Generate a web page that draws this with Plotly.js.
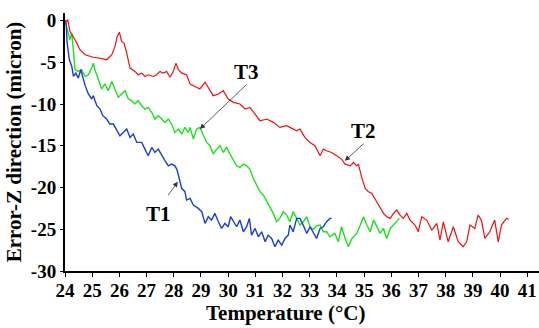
<!DOCTYPE html>
<html><head><meta charset="utf-8">
<script src="https://cdn.plot.ly/plotly-3.0.1.min.js"></script>
<style>html,body{margin:0;padding:0;background:#fff}#chart{width:539px;height:328px}</style>
</head><body><div id="chart"></div>
<script>
// T1 (blue)
const t1X = [24.00,24.04,24.08,24.16,24.25,24.31,24.40,24.49,24.58,24.67,24.74,24.86,24.98,25.04,25.17,25.29,25.39,25.53,25.65,25.78,25.90,26.02,26.14,26.27,26.39,26.51,26.64,26.82,26.94,27.06,27.19,27.31,27.43,27.56,27.68,27.80,27.92,28.04,28.11,28.17,28.29,28.41,28.47,28.60,28.72,28.90,29.03,29.15,29.27,29.39,29.51,29.64,29.76,29.88,30.00,30.09,30.19,30.31,30.43,30.56,30.68,30.78,30.86,30.99,31.11,31.23,31.36,31.47,31.60,31.72,31.84,31.97,32.09,32.21,32.27,32.39,32.52,32.64,32.76,32.89,33.01,33.13,33.25,33.38,33.50,33.62,33.74,33.80];
const t1Y = [0.0,-0.3,-2.7,-4.7,-5.5,-6.7,-6.3,-6.9,-5.9,-7.1,-7.8,-8.8,-9.4,-9.0,-10.2,-10.6,-11.4,-11.8,-12.4,-12.4,-13.2,-13.8,-13.4,-13.0,-14.0,-13.6,-14.6,-14.6,-15.4,-16.2,-15.2,-15.8,-15.4,-16.2,-16.8,-17.4,-17.2,-17.4,-17.8,-18.5,-20.1,-20.5,-21.5,-21.3,-22.1,-22.5,-22.9,-24.3,-23.5,-23.9,-23.1,-24.1,-24.9,-24.3,-24.7,-23.5,-24.1,-24.7,-23.9,-25.3,-24.7,-23.7,-25.7,-24.9,-25.9,-25.3,-26.5,-25.7,-26.1,-27.1,-26.3,-26.9,-26.1,-25.7,-24.5,-25.3,-23.7,-23.7,-24.5,-25.5,-24.7,-25.5,-26.1,-24.9,-24.7,-24.1,-23.7,-23.7];

// T3 (green)
const t3X = [24.00,24.08,24.18,24.25,24.31,24.37,24.49,24.61,24.74,24.86,24.98,25.04,25.10,25.22,25.35,25.47,25.59,25.72,25.84,25.96,26.08,26.21,26.33,26.45,26.57,26.69,26.82,26.94,27.06,27.19,27.31,27.43,27.56,27.68,27.80,27.92,28.04,28.17,28.29,28.41,28.53,28.60,28.72,28.84,28.96,29.08,29.21,29.33,29.45,29.58,29.70,29.82,29.94,30.07,30.19,30.31,30.43,30.56,30.68,30.80,30.92,31.05,31.17,31.29,31.42,31.54,31.66,31.78,31.90,32.03,32.15,32.27,32.39,32.52,32.64,32.76,32.89,33.01,33.13,33.25,33.38,33.50,33.62,33.74,33.92,34.05,34.17,34.30,34.42,34.55,34.73,34.86,34.98,35.10,35.22,35.35,35.47,35.59,35.71,35.83,35.96,36.08,36.20,36.30];
const t3Y = [0.0,-1.1,-2.3,-1.5,-3.9,-5.9,-6.1,-5.9,-6.7,-6.5,-5.7,-5.1,-5.9,-7.1,-8.2,-7.6,-8.4,-7.3,-8.2,-9.2,-8.8,-8.4,-9.4,-9.6,-10.0,-9.6,-10.2,-10.6,-10.4,-11.0,-11.8,-11.4,-11.8,-12.2,-11.8,-12.4,-13.4,-13.0,-13.6,-12.8,-13.4,-12.8,-14.2,-13.0,-12.8,-13.6,-14.6,-15.0,-16.0,-15.4,-15.0,-15.8,-15.2,-16.0,-16.8,-17.4,-17.6,-17.2,-17.4,-17.8,-18.9,-19.7,-20.5,-20.9,-21.7,-22.5,-23.1,-24.1,-23.7,-22.9,-23.3,-24.1,-22.9,-23.7,-24.5,-24.1,-23.5,-24.7,-25.0,-24.6,-24.5,-25.3,-25.3,-25.9,-25.5,-26.5,-24.7,-26.1,-27.1,-26.1,-25.5,-24.5,-23.5,-24.5,-25.3,-23.9,-24.7,-25.5,-24.9,-26.1,-24.9,-24.5,-24.1,-23.7];

// T2 (red)
const t2X = [24.00,24.06,24.10,24.18,24.37,24.55,24.74,25.04,25.41,25.53,25.72,25.84,25.92,26.00,26.08,26.17,26.27,26.39,26.57,26.69,26.82,26.94,27.06,27.25,27.37,27.49,27.61,27.74,27.86,27.98,28.08,28.17,28.29,28.47,28.60,28.72,28.96,29.15,29.27,29.45,29.64,29.82,30.00,30.19,30.43,30.62,30.80,30.99,31.17,31.42,31.66,31.90,32.15,32.27,32.52,32.64,32.82,33.01,33.19,33.38,33.50,33.62,33.80,33.99,34.17,34.30,34.49,34.61,34.73,34.79,34.92,35.04,35.16,35.28,35.40,35.53,35.71,35.83,35.96,36.08,36.20,36.32,36.44,36.57,36.69,36.87,36.99,37.12,37.30,37.49,37.67,37.79,37.91,38.09,38.28,38.46,38.64,38.77,38.89,39.07,39.19,39.31,39.44,39.62,39.80,39.93,40.05,40.23,40.32];
const t2Y = [0.0,-0.1,0.1,-1.3,-2.3,-3.5,-4.1,-4.4,-4.6,-4.7,-4.1,-3.1,-1.9,-1.4,-2.5,-2.7,-3.9,-5.7,-6.1,-6.5,-6.3,-6.7,-6.5,-6.7,-6.5,-6.1,-6.3,-6.1,-6.8,-6.1,-5.1,-5.9,-6.3,-6.5,-7.6,-7.8,-8.2,-7.4,-8.0,-9.0,-8.8,-8.4,-9.4,-9.8,-10.0,-10.6,-10.4,-11.2,-12.0,-11.8,-12.2,-12.8,-12.6,-12.8,-13.2,-13.0,-14.0,-14.6,-15.0,-16.2,-15.4,-15.6,-15.8,-16.2,-16.6,-17.2,-17.4,-17.0,-17.4,-17.2,-18.9,-20.1,-20.5,-20.7,-21.3,-22.1,-23.1,-23.5,-23.7,-23.1,-22.7,-23.3,-23.7,-23.1,-23.9,-24.5,-25.3,-23.5,-23.9,-25.1,-24.3,-26.3,-24.1,-26.5,-24.7,-26.5,-27.1,-26.5,-24.5,-24.9,-23.3,-23.9,-26.1,-25.3,-23.9,-26.5,-24.5,-23.7,-23.8];

const xTicks = [24,25,26,27,28,29,30,31,32,33,34,35,36,37,38,39,40,41];
const yTicks = [0,-5,-10,-15,-20,-25,-30];
const yTickText = ['0','-5','-10','-15','-20','-25','-30'];

const serif = 'Liberation Serif';
const traces = [
  {x: t3X, y: t3Y, mode: 'lines', name: 'T3', line: {color: '#1ee01e', width: 1.4}},
  {x: t1X, y: t1Y, mode: 'lines', name: 'T1', line: {color: '#1a3fd0', width: 1.4}},
  {x: t2X, y: t2Y, mode: 'lines', name: 'T2', line: {color: '#f01010', width: 1.2}}
];

const arrow = (hx, hy, tx, ty) => ({x: hx, y: hy, ax: tx, ay: ty, xref: 'x', yref: 'y', axref: 'x', ayref: 'y',
  text: '', showarrow: true, arrowhead: 2, arrowsize: 1.3, arrowwidth: 0.8, arrowcolor: '#333', standoff: 0});
const label = (x, y, t) => ({x: x, y: y, xref: 'x', yref: 'y', text: '<b>' + t + '</b>', showarrow: false,
  font: {family: serif, size: 21, color: '#000'}});

const layout = {
  width: 539, height: 328,
  margin: {l: 65, r: 0, t: 13, b: 57},
  paper_bgcolor: '#fff', plot_bgcolor: '#fff',
  showlegend: false,
  font: {family: serif, color: '#000'},
  xaxis: {range: [24, 41.43], tickvals: xTicks, ticktext: xTicks.map(v => '<b>' + v + '</b>'), ticks: 'outside', ticklen: 4, tickwidth: 1, tickcolor: '#000',
    ticklabelstandoff: -3,
    showline: true, linecolor: '#000', linewidth: 2, showgrid: false, zeroline: false,
    tickfont: {family: serif, size: 19, color: '#000'}},
  yaxis: {range: [-30, 0.9], tickvals: yTicks, ticktext: yTickText.map(s => '<b>' + s + '</b>'), ticks: 'outside', ticklen: 3, tickwidth: 1, tickcolor: '#000',
    showline: true, linecolor: '#000', linewidth: 2, showgrid: false, zeroline: false,
    tickfont: {family: serif, size: 19, color: '#000'},
    title: {text: '<b>Error-Z direction (micron)</b>', standoff: 4, font: {family: serif, size: 21, color: '#000'}}},
  annotations: [
    arrow(28.15, -19.3, 27.75, -21.1),
    arrow(28.96, -13.0, 30.73, -7.5),
    arrow(34.29, -16.8, 35.03, -14.6),
    label(27.44, -23.2, 'T1'),
    label(30.68, -6.2, 'T3'),
    label(34.97, -13.2, 'T2'),
    {x: 0.466, y: -0.162, xref: 'paper', yref: 'paper', yanchor: 'middle', showarrow: false,
     text: '<b>Temperature (°C)</b>', font: {family: serif, size: 21, color: '#000'}}
  ]
};
Plotly.newPlot('chart', traces, layout, {displayModeBar: false, staticPlot: true});
</script></body></html>
